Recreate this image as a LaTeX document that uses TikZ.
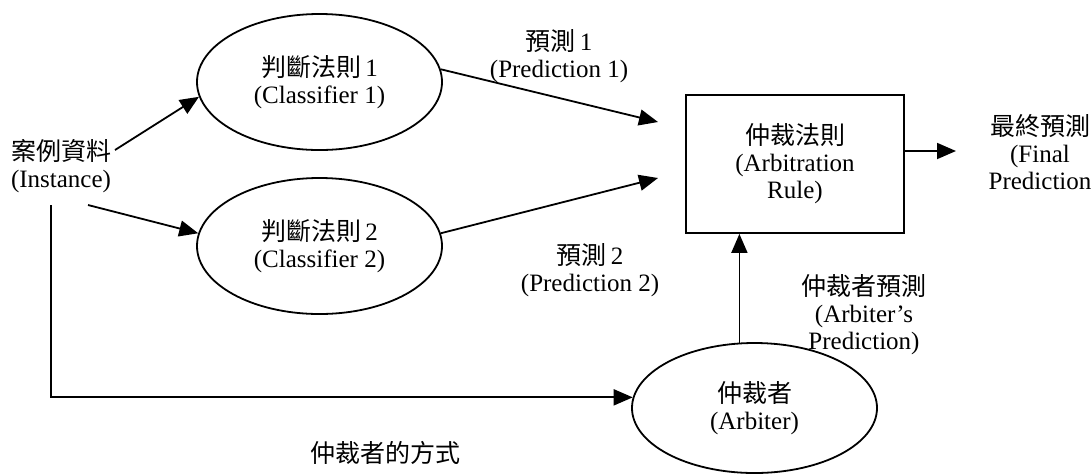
\documentclass[tikz,border=0pt]{standalone}
\usepackage{fontspec}
\setmainfont{Liberation Serif}
\newfontfamily\cjk{Noto Sans CJK TC}
\usetikzlibrary{shapes.geometric,arrows.meta,calc}
\begin{document}
\begin{tikzpicture}[x=1pt,y=-1pt,
  txt/.style={font=\fontsize{25}{27}\selectfont, align=center, inner sep=0pt},
  oval/.style={txt, draw, ellipse, line width=1.8pt, minimum width=245pt, minimum height=136pt},
  boxed/.style={txt, draw, rectangle, line width=1.8pt, minimum width=218pt, minimum height=138pt},
  arr/.style={line width=1.8pt, -{Triangle[length=19pt,width=16pt]}},
  ln/.style={line width=1.8pt}]
\useasboundingbox (0,0) rectangle (1092,475);
% nodes
\node[txt] (inst) at (61,166) {{\cjk 案例資料}\\(Instance)};
\node[oval] (e1) at (319.5,82) {{\cjk 判斷法則}\,1\\(Classifier 1)};
\node[oval] (e2) at (319.5,246) {{\cjk 判斷法則}\,2\\(Classifier 2)};
\node[boxed] (box) at (795,164) {{\cjk 仲裁法則}\\(Arbitration\\Rule)};
\node[oval, minimum width=245pt, minimum height=130pt] (arb) at (754.5,408) {{\cjk 仲裁者}\\(Arbiter)};
\node[txt] (fin) at (1040,152) {{\cjk 最終預測}\\(Final\\Prediction};
% labels
\node[txt] (p1) at (559,56) {{\cjk 預測}\,1\\(Prediction 1)};
\node[txt] (p2) at (590,270) {{\cjk 預測}\,2\\(Prediction 2)};
\node[txt] (ap) at (864,315) {{\cjk 仲裁者預測}\\(Arbiter’s\\Prediction)};
\node[txt] (way) at (385,453) {\cjk 仲裁者的方式};
% free ends
\coordinate (s1) at (115,150);
\coordinate (s2) at (88,205);
\coordinate (s3) at (51,205);
\coordinate (t1) at (658,122);
\coordinate (t2) at (658,178);
\coordinate (fs) at (904,151);
\coordinate (ft) at (956,151);
% connectors
\draw[arr] (s1) -- (e1.187);
\draw[arr] (s2) -- (e2.174);
\draw[arr] (s3) |- (arb.175);
\draw[arr] (e1.6) -- (t1);
\draw[arr] (e2.6) -- (t2);
\draw[arr] (fs) -- (ft);
\draw[arr] (arb.103) -- (arb.103 |- box.south);
\end{tikzpicture}
\end{document}
